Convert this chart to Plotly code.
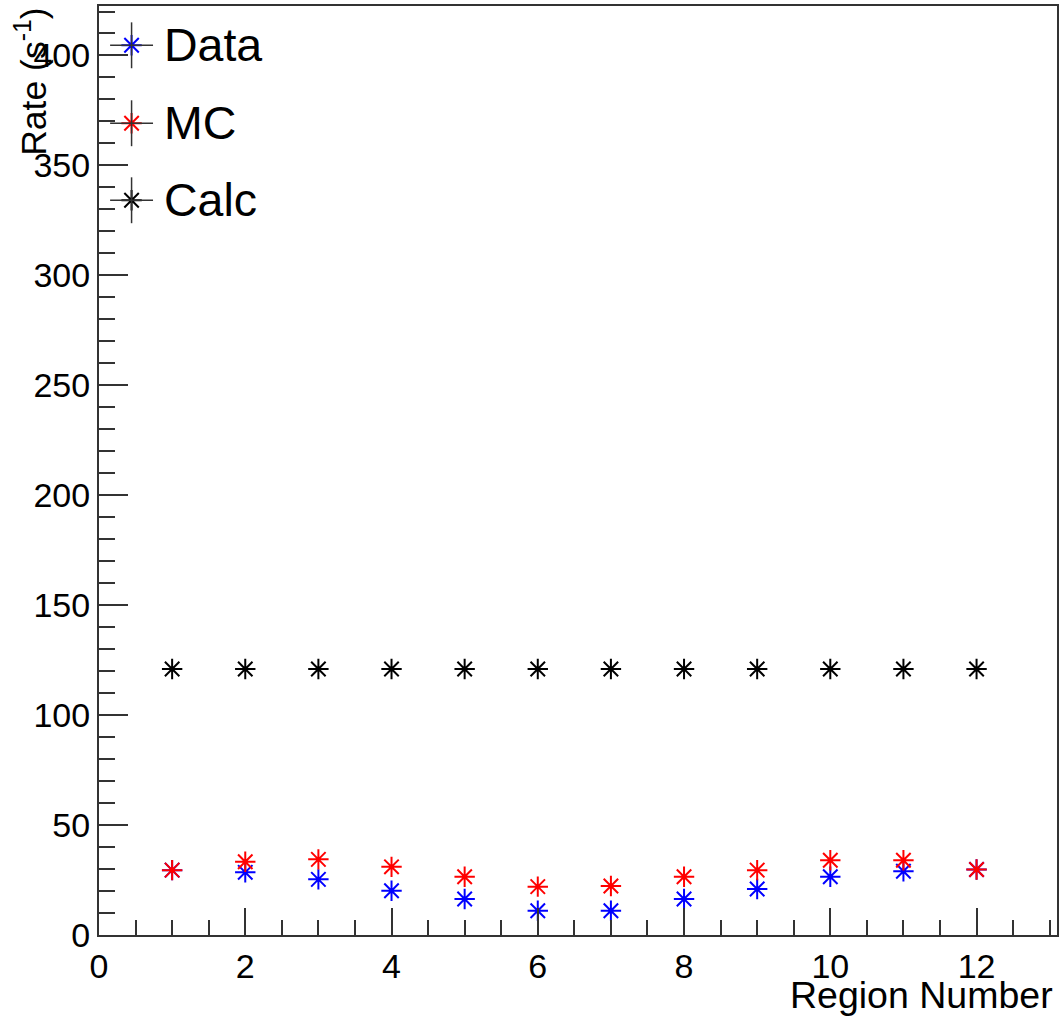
import plotly.graph_objects as go

# Region numbers and measured rates (s^-1)
regions = [1, 2, 3, 4, 5, 6, 7, 8, 9, 10, 11, 12]
data_rate = [29.5, 28.5, 25.3, 20.1, 16.4, 11.0, 11.0, 16.4, 20.9, 26.5, 29.0, 29.8]
mc_rate = [29.5, 33.3, 34.4, 31.0, 26.5, 22.0, 22.3, 26.5, 29.5, 34.0, 34.0, 29.8]
calc_rate = [121, 121, 121, 121, 121, 121, 121, 121, 121, 121, 121, 121]

series_names = ["Data", "MC", "Calc"]
series_colors = ["#0000ff", "#ff0000", "#000000"]

FONT = "Liberation Sans, Arial, Helvetica, sans-serif"
AX = "#333333"

fig = go.Figure()

for name, vals, col in zip(series_names, [data_rate, mc_rate, calc_rate], series_colors):
    fig.add_trace(go.Scatter(
        x=regions, y=vals, mode="markers", name=name, showlegend=False,
        marker=dict(symbol="asterisk-open", size=17, color=col,
                    line=dict(color=col, width=2)),
    ))

# Legend box drawn by hand: marker with error-bar cross, then the label
leg_x = 0.034
leg_y = [0.9577, 0.8738, 0.7909]
arm_x = 0.0224
arm_y = 0.0247
for name, col, yy in zip(series_names, series_colors, leg_y):
    fig.add_shape(type="line", xref="paper", yref="paper",
                  x0=leg_x - arm_x, x1=leg_x + arm_x, y0=yy, y1=yy,
                  line=dict(color=AX, width=1.5))
    fig.add_shape(type="line", xref="paper", yref="paper",
                  x0=leg_x, x1=leg_x, y0=yy - arm_y, y1=yy + arm_y,
                  line=dict(color=AX, width=1.5))
    fig.add_trace(go.Scatter(
        x=[leg_x], y=[yy], xaxis="x2", yaxis="y2", mode="markers",
        showlegend=False, hoverinfo="skip",
        marker=dict(symbol="asterisk-open", size=17, color=col,
                    line=dict(color=col, width=2)),
    ))
    fig.add_annotation(xref="paper", yref="paper", x=0.0654, y=yy,
                       xanchor="left", yanchor="middle", showarrow=False,
                       text=name, font=dict(family=FONT, size=46.5, color="black"))

# Axis titles
fig.add_annotation(xref="paper", yref="paper", x=-0.0712, y=1.0,
                   xanchor="center", yanchor="top", textangle=-90, showarrow=False,
                   text="Rate (s<sup>-1</sup>)", font=dict(family=FONT, size=35.5, color="black"))
fig.add_annotation(xref="paper", yref="paper", x=0.998, y=-0.0646,
                   xanchor="right", yanchor="middle", showarrow=False,
                   text="Region Number", font=dict(family=FONT, size=37.5, color="black"))

fig.update_layout(
    width=1063, height=1017,
    margin=dict(l=99, r=4, t=6, b=82),
    paper_bgcolor="white", plot_bgcolor="white",
    font=dict(family=FONT, size=34, color="black"),
    xaxis=dict(
        range=[0, 13.1], dtick=2, tick0=0, showgrid=False, zeroline=False,
        showline=True, linecolor=AX, linewidth=2, mirror=True,
        ticks="inside", ticklen=27, tickwidth=1.5, tickcolor=AX,
        minor=dict(dtick=0.5, ticks="inside", ticklen=15, tickwidth=1.5,
                   tickcolor=AX, showgrid=False),
        tickfont=dict(family=FONT, size=34, color="black"),
    ),
    yaxis=dict(
        range=[0, 422.5], dtick=50, tick0=0, showgrid=False, zeroline=False,
        showline=True, linecolor=AX, linewidth=2, mirror=True,
        ticks="inside", ticklen=29, tickwidth=1.5, tickcolor=AX,
        minor=dict(dtick=10, ticks="inside", ticklen=16, tickwidth=1.5,
                   tickcolor=AX, showgrid=False),
        tickfont=dict(family=FONT, size=34, color="black"),
    ),
    xaxis2=dict(range=[0, 1], overlaying="x", visible=False, fixedrange=True),
    yaxis2=dict(range=[0, 1], overlaying="y", visible=False, fixedrange=True),
)

fig.write_html("out.html")
